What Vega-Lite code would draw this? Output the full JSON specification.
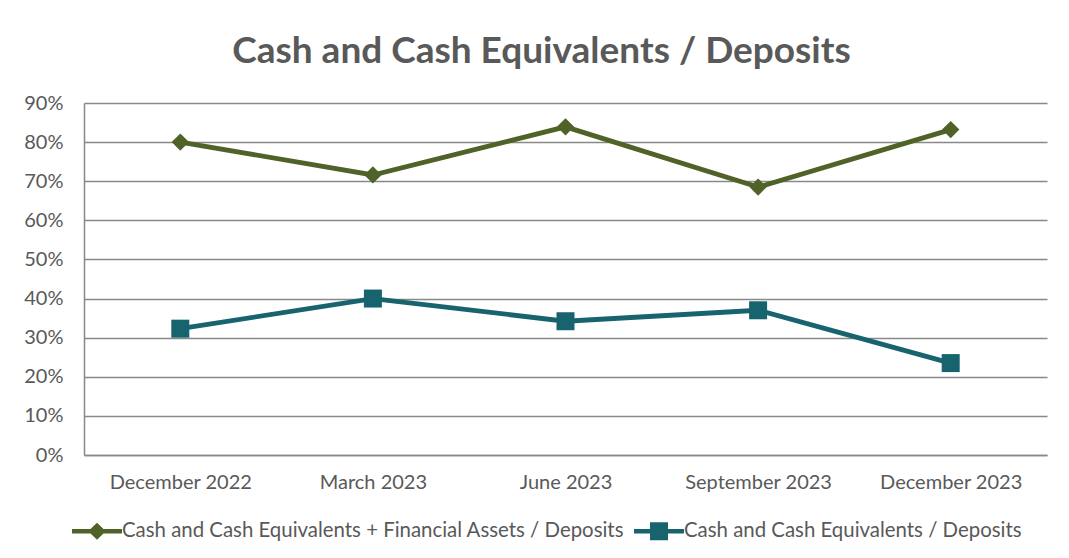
{
  "$schema": "https://vega.github.io/schema/vega-lite/v6.json",
  "autosize": "none",
  "width": 963,
  "height": 352,
  "padding": {"left": 84, "top": 103, "right": 22, "bottom": 103},
  "background": "white",
  "title": {
    "text": "Cash and Cash Equivalents / Deposits",
    "font": "Lato",
    "fontSize": 37,
    "fontWeight": "bold",
    "color": "#595959",
    "anchor": "middle",
    "dx": -24,
    "offset": 22
  },
  "config": {
    "view": {"stroke": null},
    "font": "Lato"
  },
  "data": {
    "values": [
      {"period": "December 2022", "series": "Cash and Cash Equivalents + Financial Assets / Deposits", "value": 0.800},
      {"period": "March 2023", "series": "Cash and Cash Equivalents + Financial Assets / Deposits", "value": 0.716},
      {"period": "June 2023", "series": "Cash and Cash Equivalents + Financial Assets / Deposits", "value": 0.839},
      {"period": "September 2023", "series": "Cash and Cash Equivalents + Financial Assets / Deposits", "value": 0.685},
      {"period": "December 2023", "series": "Cash and Cash Equivalents + Financial Assets / Deposits", "value": 0.832},
      {"period": "December 2022", "series": "Cash and Cash Equivalents / Deposits", "value": 0.323},
      {"period": "March 2023", "series": "Cash and Cash Equivalents / Deposits", "value": 0.400},
      {"period": "June 2023", "series": "Cash and Cash Equivalents / Deposits", "value": 0.342},
      {"period": "September 2023", "series": "Cash and Cash Equivalents / Deposits", "value": 0.370},
      {"period": "December 2023", "series": "Cash and Cash Equivalents / Deposits", "value": 0.235}
    ]
  },
  "encoding": {
    "x": {
      "field": "period",
      "type": "ordinal",
      "sort": null,
      "scale": {"type": "point", "padding": 0.5},
      "axis": {
        "title": null,
        "labelAngle": 0,
        "labelFont": "Lato",
        "labelFontSize": 20,
        "labelColor": "#595959",
        "labelPadding": 17,
        "ticks": false,
        "domainColor": "#898989",
        "domainWidth": 1.5,
        "grid": false
      }
    },
    "y": {
      "field": "value",
      "type": "quantitative",
      "scale": {"domain": [0, 0.9], "nice": false},
      "axis": {
        "title": null,
        "values": [0, 0.1, 0.2, 0.3, 0.4, 0.5, 0.6, 0.7, 0.8, 0.9],
        "format": ".0%",
        "labelFont": "Lato",
        "labelFontSize": 20,
        "labelColor": "#595959",
        "labelPadding": 21,
        "ticks": false,
        "domainColor": "#898989",
        "domainWidth": 1.5,
        "grid": true,
        "gridColor": "#898989",
        "gridWidth": 1.5
      }
    },
    "color": {
      "field": "series",
      "type": "nominal",
      "sort": null,
      "scale": {"range": ["#4F6228", "#17646F"]},
      "legend": {
        "title": null,
        "orient": "none",
        "direction": "horizontal",
        "legendX": -12,
        "legendY": 403,
        "symbolSize": 2500,
        "labelFont": "Lato",
        "labelFontSize": 20.4,
        "labelColor": "#595959",
        "labelOffset": 0,
        "columnPadding": 9,
        "labelLimit": 700,
        "encode": {
          "symbols": {
            "update": {
              "shape": {"signal": "datum.value === 'Cash and Cash Equivalents / Deposits' ? 'M-1,-0.09L-0.36,-0.09L-0.36,-0.36L0.36,-0.36L0.36,-0.09L1,-0.09L1,0.09L0.36,0.09L0.36,0.36L-0.36,0.36L-0.36,0.09L-1,0.09Z' : 'M-1,-0.09L-0.26,-0.09L0,-0.34L0.26,-0.09L1,-0.09L1,0.09L0.26,0.09L0,0.34L-0.26,0.09L-1,0.09Z'"},
              "fill": {"signal": "datum.value === 'Cash and Cash Equivalents / Deposits' ? '#17646F' : '#4F6228'"},
              "stroke": {"value": "transparent"},
              "strokeWidth": {"value": 0},
              "opacity": {"value": 1},
              "fillOpacity": {"value": 1}
            }
          }
        }
      }
    }
  },
  "layer": [
    {
      "mark": {"type": "line", "strokeWidth": 4.8}
    },
    {
      "mark": {"type": "point", "filled": true, "opacity": 1},
      "encoding": {
        "shape": {
          "field": "series",
          "type": "nominal",
          "sort": null,
          "scale": {"range": ["diamond", "square"]},
          "legend": null
        },
        "size": {
          "field": "series",
          "type": "nominal",
          "sort": null,
          "scale": {"range": [300, 324]},
          "legend": null
        }
      }
    }
  ]
}
